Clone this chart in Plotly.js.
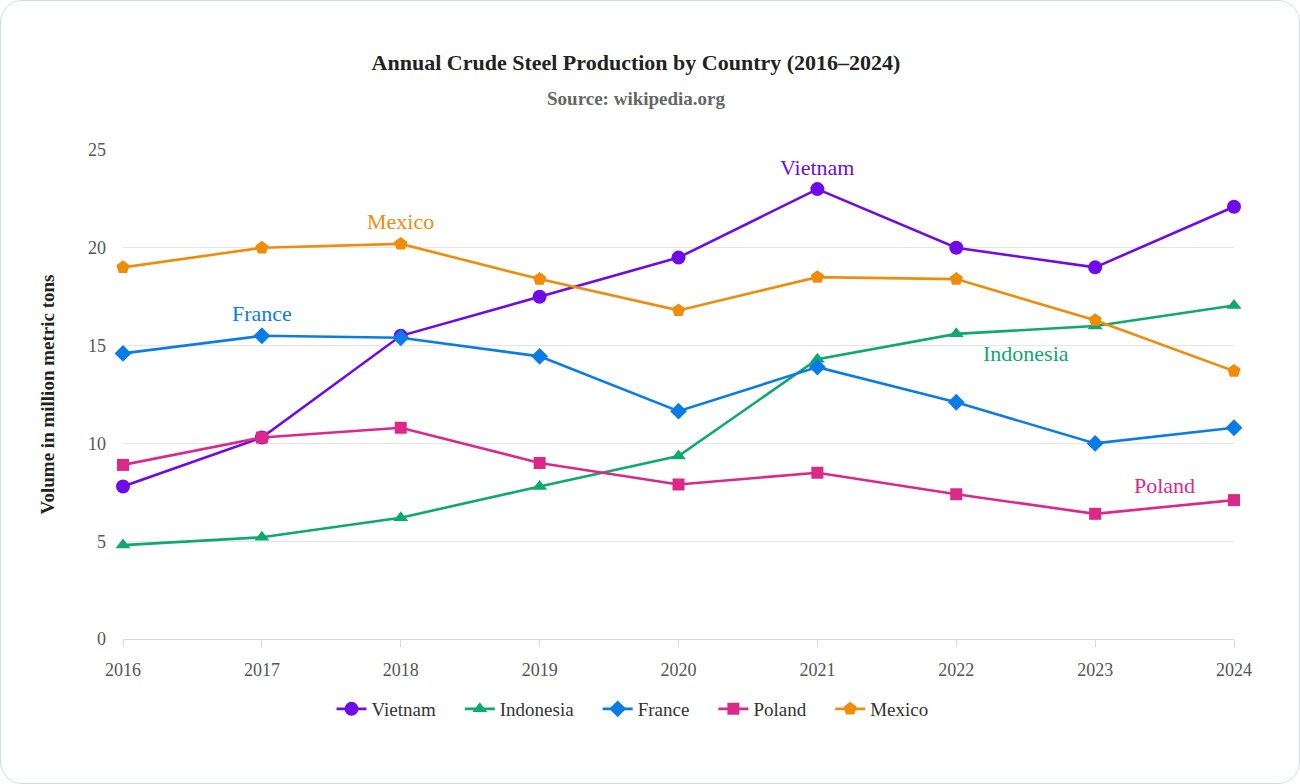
<!DOCTYPE html>
<html>
<head>
<meta charset="utf-8">
<script src="https://cdn.plot.ly/plotly-3.0.1.min.js"></script>
<style>
  html, body { margin: 0; padding: 0; background: #ffffff; }
  #wrap { position: relative; width: 1300px; height: 784px; }
  #chart { position: absolute; left: 0; top: 0; width: 1300px; height: 784px; }
  #card { position: absolute; left: 0; top: 0; width: 1300px; height: 784px; box-sizing: border-box;
          border: 1.5px solid #d3dbe8; border-radius: 22px; pointer-events: none; }
</style>
</head>
<body>
<div id="wrap">
  <div id="chart"></div>
  <div id="card"></div>
</div>
<script>
// Crude steel output, million metric tons
const years = [2016, 2017, 2018, 2019, 2020, 2021, 2022, 2023, 2024];
const vietnam   = [7.8, 10.3, 15.5, 17.5, 19.5, 23.0, 20.0, 19.0, 22.1];
const indonesia = [4.8, 5.2, 6.2, 7.8, 9.35, 14.3, 15.6, 16.0, 17.05];
const france    = [14.6, 15.5, 15.4, 14.45, 11.65, 13.9, 12.1, 10.0, 10.8];
const poland    = [8.9, 10.3, 10.8, 9.0, 7.9, 8.5, 7.4, 6.4, 7.1];
const mexico    = [19.0, 20.0, 20.2, 18.4, 16.8, 18.5, 18.4, 16.3, 13.7];

const seriesNames   = ['Vietnam', 'Indonesia', 'France', 'Poland', 'Mexico'];
const seriesValues  = [vietnam, indonesia, france, poland, mexico];
const seriesColors  = ['#6e0be8', '#0ea96f', '#0b7ce6', '#dc2889', '#f08c0c'];
const seriesSymbols = ['circle', 'triangle-up', 'diamond', 'square', 'pentagon'];
const seriesSizes   = [14, 13, 13, 12, 14];

const serif = '"Liberation Serif", "Times New Roman", serif';
// extra room after each legend entry
const legendPad = '\u00a0\u00a0\u00a0\u00a0';

const traces = seriesNames.map((name, i) => ({
  type: 'scatter',
  mode: 'lines+markers',
  name: name + legendPad,
  x: years,
  y: seriesValues[i],
  line: { color: seriesColors[i], width: 2.6 },
  marker: { symbol: seriesSymbols[i], size: seriesSizes[i], color: seriesColors[i] },
  cliponaxis: false
}));

// Series name labels placed in the plot
const labelPoints = [
  { name: 'Vietnam', x: 2021, y: 23.0, yshift: 22, color: seriesColors[0] },
  { name: 'Mexico', x: 2018, y: 20.2, yshift: 22, color: seriesColors[4] },
  { name: 'France', x: 2017, y: 15.5, yshift: 22, color: seriesColors[2] },
  { name: 'Indonesia', x: 2022.5, y: 14.6, yshift: 0, color: seriesColors[1] },
  { name: 'Poland', x: 2023.5, y: 7.87, yshift: 0, color: seriesColors[3] }
];

const annotations = labelPoints.map(p => ({
  x: p.x, y: p.y, xref: 'x', yref: 'y',
  text: p.name, showarrow: false, yshift: p.yshift,
  font: { family: serif, size: 22, color: p.color }
}));

annotations.push({
  text: '<b>Source: wikipedia.org</b>',
  xref: 'paper', yref: 'paper', x: (636 - 123) / 1111, y: (639 - 98) / 489,
  xanchor: 'center', yanchor: 'middle', showarrow: false,
  font: { family: serif, size: 19, color: '#666666' }
});

const layout = {
  width: 1300,
  height: 784,
  paper_bgcolor: 'rgba(0,0,0,0)',
  plot_bgcolor: 'rgba(0,0,0,0)',
  margin: { l: 123, r: 66, t: 150, b: 145 },
  font: { family: serif, color: '#444444' },
  title: {
    text: '<b>Annual Crude Steel Production by Country (2016–2024)</b>',
    font: { family: serif, size: 22, color: '#222222' },
    x: 636 / 1300, xref: 'container', xanchor: 'center',
    y: 1 - 62 / 784, yref: 'container', yanchor: 'middle'
  },
  xaxis: {
    range: [2016, 2024],
    tickvals: years,
    ticktext: years.map(String),
    showgrid: false,
    zeroline: false,
    showline: true,
    linecolor: '#d9d9d9',
    linewidth: 1,
    ticks: 'outside',
    ticklen: 7,
    tickcolor: '#d9d9d9',
    ticklabelstandoff: 7,
    tickfont: { family: serif, size: 18, color: '#555555' }
  },
  yaxis: {
    range: [0, 25],
    tickvals: [0, 5, 10, 15, 20, 25],
    showgrid: true,
    gridcolor: '#e6e6e6',
    gridwidth: 1,
    zeroline: false,
    showline: false,
    ticks: '',
    ticklabelstandoff: 16,
    tickfont: { family: serif, size: 18, color: '#555555' },
    title: {
      text: '<b>Volume in million metric tons</b>',
      font: { family: serif, size: 19, color: '#222222' },
      standoff: 28
    }
  },
  legend: {
    orientation: 'h',
    x: (642 - 123) / 1111, xanchor: 'center',
    y: -70 / 489, yanchor: 'middle',
    font: { family: serif, size: 19, color: '#333333' },
    itemwidth: 30,
    tracegroupgap: 0
  },
  showlegend: true,
  annotations: annotations
};

Plotly.newPlot('chart', traces, layout, { displayModeBar: false, staticPlot: true });
</script>
</body>
</html>
